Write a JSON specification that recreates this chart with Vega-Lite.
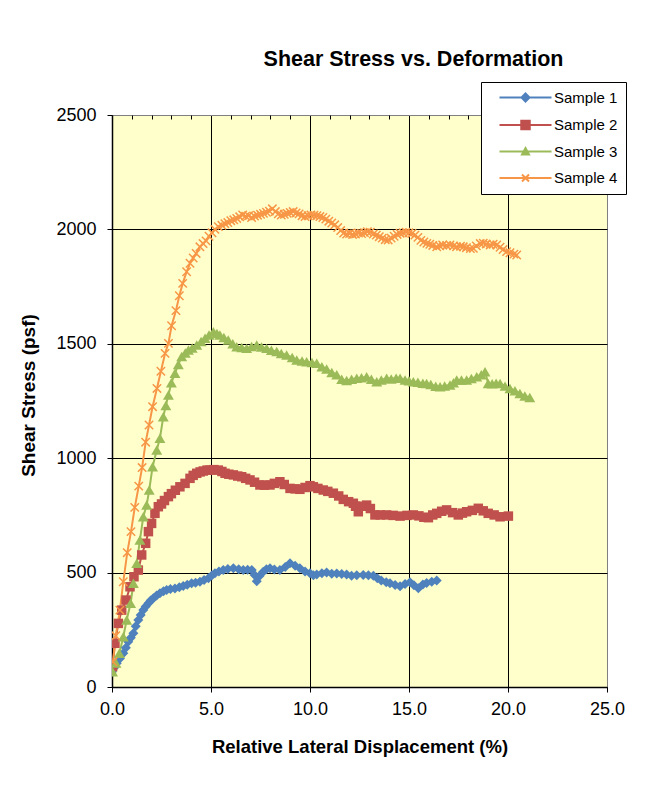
{
  "$schema": "https://vega.github.io/schema/vega-lite/v6.json",
  "width": 495,
  "height": 572,
  "autosize": "none",
  "padding": {"left": 112, "top": 115, "right": 38, "bottom": 117},
  "background": "white",
  "title": {"text": "Shear Stress vs. Deformation", "font": "Liberation Sans", "fontSize": 21.5, "fontWeight": "bold", "color": "black", "anchor": "middle", "dx": 54, "offset": 11},
  "config": {
    "view": {"fill": "#FFFFCC", "stroke": "#808080", "strokeWidth": 1},
    "axis": {"labelFont": "Liberation Sans", "labelFontSize": 18, "labelColor": "black", "labelFlush": false, "titleFont": "Liberation Sans", "titleFontSize": 18.5, "titleFontWeight": "bold", "titleColor": "black", "domainColor": "black", "domainWidth": 1.5, "tickColor": "black", "tickWidth": 1, "gridOpacity": 1, "gridWidth": 1}
  },
  "datasets": {
    "shear": [
      {"series":"Sample 1","disp":0.0,"stress":67},{"series":"Sample 1","disp":0.12,"stress":85},{"series":"Sample 1","disp":0.24,"stress":104},{"series":"Sample 1","disp":0.4,"stress":125},{"series":"Sample 1","disp":0.57,"stress":147},{"series":"Sample 1","disp":0.7,"stress":172},{"series":"Sample 1","disp":0.82,"stress":198},{"series":"Sample 1","disp":0.95,"stress":215},{"series":"Sample 1","disp":1.08,"stress":235},{"series":"Sample 1","disp":1.2,"stress":265},{"series":"Sample 1","disp":1.33,"stress":293},{"series":"Sample 1","disp":1.45,"stress":315},{"series":"Sample 1","disp":1.58,"stress":336},{"series":"Sample 1","disp":1.7,"stress":352},{"series":"Sample 1","disp":1.84,"stress":366},{"series":"Sample 1","disp":1.95,"stress":378},{"series":"Sample 1","disp":2.09,"stress":388},{"series":"Sample 1","disp":2.25,"stress":400},{"series":"Sample 1","disp":2.42,"stress":410},{"series":"Sample 1","disp":2.6,"stress":418},{"series":"Sample 1","disp":2.76,"stress":424},{"series":"Sample 1","disp":2.95,"stress":428},{"series":"Sample 1","disp":3.18,"stress":431},{"series":"Sample 1","disp":3.4,"stress":436},{"series":"Sample 1","disp":3.6,"stress":441},{"series":"Sample 1","disp":3.8,"stress":447},{"series":"Sample 1","disp":4.02,"stress":453},{"series":"Sample 1","disp":4.22,"stress":456},{"series":"Sample 1","disp":4.44,"stress":460},{"series":"Sample 1","disp":4.65,"stress":468},{"series":"Sample 1","disp":4.87,"stress":475},{"series":"Sample 1","disp":5.05,"stress":488},{"series":"Sample 1","disp":5.2,"stress":497},{"series":"Sample 1","disp":5.4,"stress":505},{"series":"Sample 1","disp":5.62,"stress":511},{"series":"Sample 1","disp":5.85,"stress":516},{"series":"Sample 1","disp":6.13,"stress":519},{"series":"Sample 1","disp":6.4,"stress":515},{"series":"Sample 1","disp":6.63,"stress":511},{"series":"Sample 1","disp":6.85,"stress":512},{"series":"Sample 1","disp":7.06,"stress":511},{"series":"Sample 1","disp":7.2,"stress":490},{"series":"Sample 1","disp":7.31,"stress":462},{"series":"Sample 1","disp":7.45,"stress":485},{"series":"Sample 1","disp":7.64,"stress":504},{"series":"Sample 1","disp":7.8,"stress":515},{"series":"Sample 1","disp":7.98,"stress":519},{"series":"Sample 1","disp":8.2,"stress":514},{"series":"Sample 1","disp":8.48,"stress":511},{"series":"Sample 1","disp":8.75,"stress":525},{"series":"Sample 1","disp":8.99,"stress":541},{"series":"Sample 1","disp":9.25,"stress":530},{"series":"Sample 1","disp":9.49,"stress":519},{"series":"Sample 1","disp":9.75,"stress":505},{"series":"Sample 1","disp":10.0,"stress":497},{"series":"Sample 1","disp":10.17,"stress":488},{"series":"Sample 1","disp":10.34,"stress":492},{"series":"Sample 1","disp":10.6,"stress":497},{"series":"Sample 1","disp":10.84,"stress":500},{"series":"Sample 1","disp":11.1,"stress":495},{"series":"Sample 1","disp":11.35,"stress":496},{"series":"Sample 1","disp":11.6,"stress":494},{"series":"Sample 1","disp":11.85,"stress":492},{"series":"Sample 1","disp":12.1,"stress":486},{"series":"Sample 1","disp":12.36,"stress":488},{"series":"Sample 1","disp":12.69,"stress":490},{"series":"Sample 1","disp":12.95,"stress":488},{"series":"Sample 1","disp":13.2,"stress":486},{"series":"Sample 1","disp":13.4,"stress":475},{"series":"Sample 1","disp":13.6,"stress":466},{"series":"Sample 1","disp":13.85,"stress":458},{"series":"Sample 1","disp":14.04,"stress":453},{"series":"Sample 1","disp":14.3,"stress":446},{"series":"Sample 1","disp":14.55,"stress":440},{"series":"Sample 1","disp":14.8,"stress":450},{"series":"Sample 1","disp":15.05,"stress":458},{"series":"Sample 1","disp":15.25,"stress":445},{"series":"Sample 1","disp":15.47,"stress":432},{"series":"Sample 1","disp":15.7,"stress":448},{"series":"Sample 1","disp":15.89,"stress":455},{"series":"Sample 1","disp":16.15,"stress":460},{"series":"Sample 1","disp":16.4,"stress":465},
      {"series":"Sample 2","disp":0.03,"stress":89},{"series":"Sample 2","disp":0.15,"stress":191},{"series":"Sample 2","disp":0.32,"stress":278},{"series":"Sample 2","disp":0.49,"stress":336},{"series":"Sample 2","disp":0.71,"stress":380},{"series":"Sample 2","disp":0.91,"stress":438},{"series":"Sample 2","disp":1.11,"stress":482},{"series":"Sample 2","disp":1.33,"stress":511},{"series":"Sample 2","disp":1.5,"stress":577},{"series":"Sample 2","disp":1.7,"stress":628},{"series":"Sample 2","disp":1.84,"stress":679},{"series":"Sample 2","disp":2.0,"stress":715},{"series":"Sample 2","disp":2.17,"stress":759},{"series":"Sample 2","disp":2.34,"stress":788},{"series":"Sample 2","disp":2.5,"stress":800},{"series":"Sample 2","disp":2.65,"stress":815},{"series":"Sample 2","disp":2.85,"stress":832},{"series":"Sample 2","disp":3.0,"stress":845},{"series":"Sample 2","disp":3.2,"stress":860},{"series":"Sample 2","disp":3.43,"stress":875},{"series":"Sample 2","disp":3.69,"stress":890},{"series":"Sample 2","disp":3.94,"stress":912},{"series":"Sample 2","disp":4.1,"stress":925},{"series":"Sample 2","disp":4.28,"stress":934},{"series":"Sample 2","disp":4.45,"stress":940},{"series":"Sample 2","disp":4.61,"stress":944},{"series":"Sample 2","disp":4.8,"stress":948},{"series":"Sample 2","disp":4.95,"stress":948},{"series":"Sample 2","disp":5.15,"stress":950},{"series":"Sample 2","disp":5.37,"stress":948},{"series":"Sample 2","disp":5.55,"stress":942},{"series":"Sample 2","disp":5.71,"stress":934},{"series":"Sample 2","disp":5.9,"stress":930},{"series":"Sample 2","disp":6.13,"stress":927},{"series":"Sample 2","disp":6.35,"stress":922},{"series":"Sample 2","disp":6.55,"stress":919},{"series":"Sample 2","disp":6.75,"stress":912},{"series":"Sample 2","disp":6.97,"stress":905},{"series":"Sample 2","disp":7.2,"stress":895},{"series":"Sample 2","disp":7.47,"stress":883},{"series":"Sample 2","disp":7.7,"stress":882},{"series":"Sample 2","disp":7.98,"stress":883},{"series":"Sample 2","disp":8.2,"stress":890},{"series":"Sample 2","disp":8.48,"stress":897},{"series":"Sample 2","disp":8.7,"stress":885},{"series":"Sample 2","disp":8.99,"stress":868},{"series":"Sample 2","disp":9.25,"stress":866},{"series":"Sample 2","disp":9.49,"stress":864},{"series":"Sample 2","disp":9.75,"stress":872},{"series":"Sample 2","disp":10.0,"stress":880},{"series":"Sample 2","disp":10.17,"stress":875},{"series":"Sample 2","disp":10.4,"stress":868},{"series":"Sample 2","disp":10.67,"stress":861},{"series":"Sample 2","disp":10.9,"stress":855},{"series":"Sample 2","disp":11.18,"stress":847},{"series":"Sample 2","disp":11.45,"stress":835},{"series":"Sample 2","disp":11.68,"stress":820},{"series":"Sample 2","disp":11.95,"stress":810},{"series":"Sample 2","disp":12.19,"stress":803},{"series":"Sample 2","disp":12.3,"stress":790},{"series":"Sample 2","disp":12.44,"stress":766},{"series":"Sample 2","disp":12.6,"stress":790},{"series":"Sample 2","disp":12.86,"stress":795},{"series":"Sample 2","disp":13.05,"stress":780},{"series":"Sample 2","disp":13.28,"stress":752},{"series":"Sample 2","disp":13.55,"stress":752},{"series":"Sample 2","disp":13.87,"stress":752},{"series":"Sample 2","disp":14.2,"stress":750},{"series":"Sample 2","disp":14.55,"stress":747},{"series":"Sample 2","disp":14.9,"stress":750},{"series":"Sample 2","disp":15.22,"stress":752},{"series":"Sample 2","disp":15.5,"stress":748},{"series":"Sample 2","disp":15.75,"stress":742},{"series":"Sample 2","disp":15.98,"stress":740},{"series":"Sample 2","disp":16.2,"stress":752},{"series":"Sample 2","disp":16.4,"stress":759},{"series":"Sample 2","disp":16.65,"stress":768},{"series":"Sample 2","disp":16.9,"stress":774},{"series":"Sample 2","disp":17.2,"stress":762},{"series":"Sample 2","disp":17.49,"stress":752},{"series":"Sample 2","disp":17.7,"stress":760},{"series":"Sample 2","disp":17.91,"stress":766},{"series":"Sample 2","disp":18.2,"stress":772},{"series":"Sample 2","disp":18.5,"stress":781},{"series":"Sample 2","disp":18.75,"stress":770},{"series":"Sample 2","disp":19.0,"stress":759},{"series":"Sample 2","disp":19.3,"stress":752},{"series":"Sample 2","disp":19.6,"stress":744},{"series":"Sample 2","disp":20.02,"stress":747},
      {"series":"Sample 3","disp":0.03,"stress":67},{"series":"Sample 3","disp":0.2,"stress":105},{"series":"Sample 3","disp":0.37,"stress":147},{"series":"Sample 3","disp":0.57,"stress":220},{"series":"Sample 3","disp":0.74,"stress":293},{"series":"Sample 3","disp":0.94,"stress":366},{"series":"Sample 3","disp":1.08,"stress":453},{"series":"Sample 3","disp":1.25,"stress":541},{"series":"Sample 3","disp":1.41,"stress":642},{"series":"Sample 3","disp":1.58,"stress":744},{"series":"Sample 3","disp":1.75,"stress":795},{"series":"Sample 3","disp":1.88,"stress":861},{"series":"Sample 3","disp":2.05,"stress":963},{"series":"Sample 3","disp":2.26,"stress":1036},{"series":"Sample 3","disp":2.42,"stress":1087},{"series":"Sample 3","disp":2.59,"stress":1181},{"series":"Sample 3","disp":2.72,"stress":1230},{"series":"Sample 3","disp":2.85,"stress":1276},{"series":"Sample 3","disp":3.0,"stress":1330},{"series":"Sample 3","disp":3.18,"stress":1371},{"series":"Sample 3","disp":3.35,"stress":1410},{"series":"Sample 3","disp":3.52,"stress":1444},{"series":"Sample 3","disp":3.7,"stress":1460},{"series":"Sample 3","disp":3.86,"stress":1473},{"series":"Sample 3","disp":4.05,"stress":1482},{"series":"Sample 3","disp":4.28,"stress":1495},{"series":"Sample 3","disp":4.5,"stress":1510},{"series":"Sample 3","disp":4.7,"stress":1524},{"series":"Sample 3","disp":4.9,"stress":1538},{"series":"Sample 3","disp":5.12,"stress":1553},{"series":"Sample 3","disp":5.3,"stress":1545},{"series":"Sample 3","disp":5.45,"stress":1538},{"series":"Sample 3","disp":5.65,"stress":1528},{"series":"Sample 3","disp":5.87,"stress":1517},{"series":"Sample 3","disp":6.1,"stress":1500},{"series":"Sample 3","disp":6.3,"stress":1487},{"series":"Sample 3","disp":6.55,"stress":1484},{"series":"Sample 3","disp":6.8,"stress":1480},{"series":"Sample 3","disp":7.05,"stress":1488},{"series":"Sample 3","disp":7.31,"stress":1495},{"series":"Sample 3","disp":7.55,"stress":1486},{"series":"Sample 3","disp":7.81,"stress":1480},{"series":"Sample 3","disp":8.05,"stress":1472},{"series":"Sample 3","disp":8.32,"stress":1466},{"series":"Sample 3","disp":8.55,"stress":1458},{"series":"Sample 3","disp":8.82,"stress":1451},{"series":"Sample 3","disp":9.1,"stress":1440},{"series":"Sample 3","disp":9.33,"stress":1429},{"series":"Sample 3","disp":9.6,"stress":1425},{"series":"Sample 3","disp":9.83,"stress":1422},{"series":"Sample 3","disp":10.1,"stress":1418},{"series":"Sample 3","disp":10.34,"stress":1415},{"series":"Sample 3","disp":10.6,"stress":1400},{"series":"Sample 3","disp":10.84,"stress":1390},{"series":"Sample 3","disp":11.1,"stress":1375},{"series":"Sample 3","disp":11.35,"stress":1365},{"series":"Sample 3","disp":11.6,"stress":1345},{"series":"Sample 3","disp":11.85,"stress":1340},{"series":"Sample 3","disp":12.1,"stress":1345},{"series":"Sample 3","disp":12.36,"stress":1349},{"series":"Sample 3","disp":12.6,"stress":1352},{"series":"Sample 3","disp":12.86,"stress":1356},{"series":"Sample 3","disp":13.1,"stress":1345},{"series":"Sample 3","disp":13.37,"stress":1334},{"series":"Sample 3","disp":13.6,"stress":1342},{"series":"Sample 3","disp":13.87,"stress":1349},{"series":"Sample 3","disp":14.1,"stress":1346},{"series":"Sample 3","disp":14.35,"stress":1350},{"series":"Sample 3","disp":14.55,"stress":1349},{"series":"Sample 3","disp":14.8,"stress":1342},{"series":"Sample 3","disp":15.0,"stress":1338},{"series":"Sample 3","disp":15.22,"stress":1334},{"series":"Sample 3","disp":15.45,"stress":1332},{"series":"Sample 3","disp":15.7,"stress":1328},{"series":"Sample 3","disp":15.89,"stress":1327},{"series":"Sample 3","disp":16.1,"stress":1322},{"series":"Sample 3","disp":16.35,"stress":1314},{"series":"Sample 3","disp":16.57,"stress":1312},{"series":"Sample 3","disp":16.8,"stress":1316},{"series":"Sample 3","disp":17.07,"stress":1320},{"series":"Sample 3","disp":17.25,"stress":1330},{"series":"Sample 3","disp":17.41,"stress":1342},{"series":"Sample 3","disp":17.65,"stress":1342},{"series":"Sample 3","disp":17.91,"stress":1342},{"series":"Sample 3","disp":18.15,"stress":1348},{"series":"Sample 3","disp":18.42,"stress":1356},{"series":"Sample 3","disp":18.65,"stress":1365},{"series":"Sample 3","disp":18.84,"stress":1378},{"series":"Sample 3","disp":19.0,"stress":1327},{"series":"Sample 3","disp":19.2,"stress":1325},{"series":"Sample 3","disp":19.4,"stress":1328},{"series":"Sample 3","disp":19.6,"stress":1327},{"series":"Sample 3","disp":19.85,"stress":1315},{"series":"Sample 3","disp":20.1,"stress":1305},{"series":"Sample 3","disp":20.35,"stress":1295},{"series":"Sample 3","disp":20.6,"stress":1283},{"series":"Sample 3","disp":20.85,"stress":1272},{"series":"Sample 3","disp":21.1,"stress":1265},
      {"series":"Sample 4","disp":0.05,"stress":110},{"series":"Sample 4","disp":0.19,"stress":224},{"series":"Sample 4","disp":0.4,"stress":336},{"series":"Sample 4","disp":0.57,"stress":460},{"series":"Sample 4","disp":0.77,"stress":587},{"series":"Sample 4","disp":0.96,"stress":679},{"series":"Sample 4","disp":1.15,"stress":785},{"series":"Sample 4","disp":1.35,"stress":878},{"series":"Sample 4","disp":1.52,"stress":959},{"series":"Sample 4","disp":1.7,"stress":1070},{"series":"Sample 4","disp":1.87,"stress":1145},{"series":"Sample 4","disp":2.05,"stress":1225},{"series":"Sample 4","disp":2.27,"stress":1305},{"series":"Sample 4","disp":2.47,"stress":1380},{"series":"Sample 4","disp":2.68,"stress":1458},{"series":"Sample 4","disp":2.85,"stress":1502},{"series":"Sample 4","disp":3.01,"stress":1579},{"series":"Sample 4","disp":3.23,"stress":1645},{"series":"Sample 4","disp":3.4,"stress":1710},{"series":"Sample 4","disp":3.57,"stress":1764},{"series":"Sample 4","disp":3.77,"stress":1815},{"series":"Sample 4","disp":3.94,"stress":1852},{"series":"Sample 4","disp":4.1,"stress":1875},{"series":"Sample 4","disp":4.25,"stress":1895},{"series":"Sample 4","disp":4.44,"stress":1924},{"series":"Sample 4","disp":4.6,"stress":1938},{"series":"Sample 4","disp":4.75,"stress":1950},{"series":"Sample 4","disp":4.9,"stress":1970},{"series":"Sample 4","disp":5.05,"stress":1985},{"series":"Sample 4","disp":5.2,"stress":2000},{"series":"Sample 4","disp":5.37,"stress":2012},{"series":"Sample 4","disp":5.55,"stress":2018},{"series":"Sample 4","disp":5.7,"stress":2025},{"series":"Sample 4","disp":5.85,"stress":2030},{"series":"Sample 4","disp":6.0,"stress":2038},{"series":"Sample 4","disp":6.15,"stress":2042},{"series":"Sample 4","disp":6.3,"stress":2048},{"series":"Sample 4","disp":6.45,"stress":2055},{"series":"Sample 4","disp":6.6,"stress":2063},{"series":"Sample 4","disp":6.75,"stress":2058},{"series":"Sample 4","disp":6.9,"stress":2060},{"series":"Sample 4","disp":7.05,"stress":2052},{"series":"Sample 4","disp":7.2,"stress":2058},{"series":"Sample 4","disp":7.35,"stress":2062},{"series":"Sample 4","disp":7.5,"stress":2066},{"series":"Sample 4","disp":7.65,"stress":2070},{"series":"Sample 4","disp":7.8,"stress":2075},{"series":"Sample 4","disp":7.95,"stress":2080},{"series":"Sample 4","disp":8.1,"stress":2090},{"series":"Sample 4","disp":8.25,"stress":2078},{"series":"Sample 4","disp":8.4,"stress":2068},{"series":"Sample 4","disp":8.55,"stress":2063},{"series":"Sample 4","disp":8.7,"stress":2066},{"series":"Sample 4","disp":8.85,"stress":2070},{"series":"Sample 4","disp":9.0,"stress":2074},{"series":"Sample 4","disp":9.15,"stress":2078},{"series":"Sample 4","disp":9.3,"stress":2072},{"series":"Sample 4","disp":9.45,"stress":2068},{"series":"Sample 4","disp":9.6,"stress":2060},{"series":"Sample 4","disp":9.75,"stress":2056},{"series":"Sample 4","disp":9.9,"stress":2060},{"series":"Sample 4","disp":10.05,"stress":2063},{"series":"Sample 4","disp":10.2,"stress":2062},{"series":"Sample 4","disp":10.35,"stress":2060},{"series":"Sample 4","disp":10.5,"stress":2056},{"series":"Sample 4","disp":10.65,"stress":2052},{"series":"Sample 4","disp":10.8,"stress":2045},{"series":"Sample 4","disp":10.95,"stress":2036},{"series":"Sample 4","disp":11.1,"stress":2028},{"series":"Sample 4","disp":11.25,"stress":2020},{"series":"Sample 4","disp":11.4,"stress":2008},{"series":"Sample 4","disp":11.55,"stress":1995},{"series":"Sample 4","disp":11.7,"stress":1984},{"series":"Sample 4","disp":11.85,"stress":1980},{"series":"Sample 4","disp":12.0,"stress":1982},{"series":"Sample 4","disp":12.15,"stress":1978},{"series":"Sample 4","disp":12.3,"stress":1980},{"series":"Sample 4","disp":12.45,"stress":1984},{"series":"Sample 4","disp":12.6,"stress":1982},{"series":"Sample 4","disp":12.75,"stress":1986},{"series":"Sample 4","disp":12.9,"stress":1990},{"series":"Sample 4","disp":13.05,"stress":1988},{"series":"Sample 4","disp":13.2,"stress":1980},{"series":"Sample 4","disp":13.35,"stress":1975},{"series":"Sample 4","disp":13.5,"stress":1968},{"series":"Sample 4","disp":13.65,"stress":1962},{"series":"Sample 4","disp":13.8,"stress":1955},{"series":"Sample 4","disp":13.95,"stress":1954},{"series":"Sample 4","disp":14.1,"stress":1962},{"series":"Sample 4","disp":14.25,"stress":1970},{"series":"Sample 4","disp":14.4,"stress":1978},{"series":"Sample 4","disp":14.55,"stress":1983},{"series":"Sample 4","disp":14.7,"stress":1985},{"series":"Sample 4","disp":14.85,"stress":1988},{"series":"Sample 4","disp":15.0,"stress":1985},{"series":"Sample 4","disp":15.15,"stress":1982},{"series":"Sample 4","disp":15.3,"stress":1975},{"series":"Sample 4","disp":15.45,"stress":1965},{"series":"Sample 4","disp":15.6,"stress":1952},{"series":"Sample 4","disp":15.75,"stress":1945},{"series":"Sample 4","disp":15.9,"stress":1939},{"series":"Sample 4","disp":16.05,"stress":1935},{"series":"Sample 4","disp":16.2,"stress":1930},{"series":"Sample 4","disp":16.4,"stress":1924},{"series":"Sample 4","disp":16.55,"stress":1928},{"series":"Sample 4","disp":16.7,"stress":1932},{"series":"Sample 4","disp":16.9,"stress":1930},{"series":"Sample 4","disp":17.07,"stress":1932},{"series":"Sample 4","disp":17.25,"stress":1928},{"series":"Sample 4","disp":17.4,"stress":1924},{"series":"Sample 4","disp":17.6,"stress":1926},{"series":"Sample 4","disp":17.74,"stress":1924},{"series":"Sample 4","disp":17.9,"stress":1920},{"series":"Sample 4","disp":18.1,"stress":1916},{"series":"Sample 4","disp":18.25,"stress":1917},{"series":"Sample 4","disp":18.4,"stress":1928},{"series":"Sample 4","disp":18.6,"stress":1938},{"series":"Sample 4","disp":18.75,"stress":1940},{"series":"Sample 4","disp":18.9,"stress":1936},{"series":"Sample 4","disp":19.1,"stress":1932},{"series":"Sample 4","disp":19.25,"stress":1935},{"series":"Sample 4","disp":19.43,"stress":1932},{"series":"Sample 4","disp":19.6,"stress":1922},{"series":"Sample 4","disp":19.75,"stress":1912},{"series":"Sample 4","disp":19.93,"stress":1903},{"series":"Sample 4","disp":20.1,"stress":1898},{"series":"Sample 4","disp":20.3,"stress":1892},{"series":"Sample 4","disp":20.44,"stress":1888}
    ]
  },
  "data": {"name": "shear"},
  "resolve": {"axis": {"x": "independent"}},
  "layer": [
    {
      "mark": {"type": "line", "strokeWidth": 2, "clip": true},
      "encoding": {
        "x": {"field": "disp", "type": "quantitative", "scale": {"domain": [0, 25], "nice": false, "zero": true},
          "axis": {"values": [0, 5, 10, 15, 20, 25], "format": ".1f", "title": "Relative Lateral Displacement (%)", "tickSize": 5, "labelPadding": 8, "titlePadding": 19, "grid": true, "gridColor": {"condition": {"test": "datum.value >= 25", "value": "#808080"}, "value": "black"}}},
        "y": {"field": "stress", "type": "quantitative", "scale": {"domain": [0, 2500], "nice": false},
          "axis": {"values": [0, 500, 1000, 1500, 2000, 2500], "format": "d", "title": "Shear Stress (psf)", "titleFontSize": 19, "titleY": 280, "tickSize": 5, "labelPadding": 11, "titlePadding": 17, "grid": true, "gridColor": {"condition": {"test": "datum.value >= 2500", "value": "#808080"}, "value": "black"}}},
        "color": {"field": "series", "type": "nominal",
          "scale": {"domain": ["Sample 1", "Sample 2", "Sample 3", "Sample 4"], "range": ["#4F81BD", "#C0504D", "#9BBB59", "#F79646"]},
          "legend": {"title": null, "orient": "none", "legendX": 369, "legendY": -33, "direction": "vertical",
            "fillColor": "white", "strokeColor": "black", "padding": 8, "cornerRadius": 0,
            "labelFont": "Liberation Sans", "labelFontSize": 15, "labelColor": "black", "labelOffset": 50,
            "symbolSize": 100, "symbolStrokeWidth": 2, "rowPadding": 10.5,
            "encode": {"symbols": {"update": {
              "shape": {"signal": "datum.value === 'Sample 1' ? 'M0.6,0H11M5.8,-0.8L6.6,0L5.8,0.8L5,0Z' : datum.value === 'Sample 2' ? 'M0.6,0H11M4.95,-0.85H6.65V0.85H4.95Z' : datum.value === 'Sample 3' ? 'M0.6,0H11M5.8,-0.7L6.5,0.6H5.1Z' : 'M0.6,0H11M5.1,-0.7L6.5,0.7M5.1,0.7L6.5,-0.7'"},
              "fill": {"signal": "datum.value === 'Sample 4' ? 'transparent' : scale('color', datum.value)"},
              "stroke": {"signal": "scale('color', datum.value)"},
              "strokeWidth": {"value": 2},
              "opacity": {"value": 1}
            }}}
          }}
      }
    },
    {
      "transform": [{"filter": {"field": "series", "equal": "Sample 1"}}],
      "mark": {"type": "point", "shape": "diamond", "filled": true, "color": "#4F81BD", "size": 100, "opacity": 1, "clip": true},
      "encoding": {
        "x": {"field": "disp", "type": "quantitative",
          "axis": {"values": [1,2,3,4,6,7,8,9,11,12,13,14,16,17,18,19,21,22,23,24], "labels": false, "domain": false, "grid": false, "title": null, "tickSize": -4, "tickColor": "black"}},
        "y": {"field": "stress", "type": "quantitative"}
      }
    },
    {
      "transform": [{"filter": {"field": "series", "equal": "Sample 2"}}],
      "mark": {"type": "point", "shape": "square", "filled": true, "color": "#C0504D", "size": 90, "opacity": 1, "clip": true},
      "encoding": {
        "x": {"field": "disp", "type": "quantitative", "axis": null},
        "y": {"field": "stress", "type": "quantitative"}
      }
    },
    {
      "transform": [{"filter": {"field": "series", "equal": "Sample 3"}}],
      "mark": {"type": "point", "shape": "triangle-up", "filled": true, "color": "#9BBB59", "size": 120, "opacity": 1, "clip": true},
      "encoding": {
        "x": {"field": "disp", "type": "quantitative", "axis": null},
        "y": {"field": "stress", "type": "quantitative"}
      }
    },
    {
      "transform": [{"filter": {"field": "series", "equal": "Sample 4"}}],
      "mark": {"type": "point", "shape": "M-1,-1L1,1M-1,1L1,-1", "filled": false, "color": "#F79646", "strokeWidth": 1.5, "size": 70, "opacity": 1, "clip": true},
      "encoding": {
        "x": {"field": "disp", "type": "quantitative", "axis": null},
        "y": {"field": "stress", "type": "quantitative"}
      }
    }
  ]
}
